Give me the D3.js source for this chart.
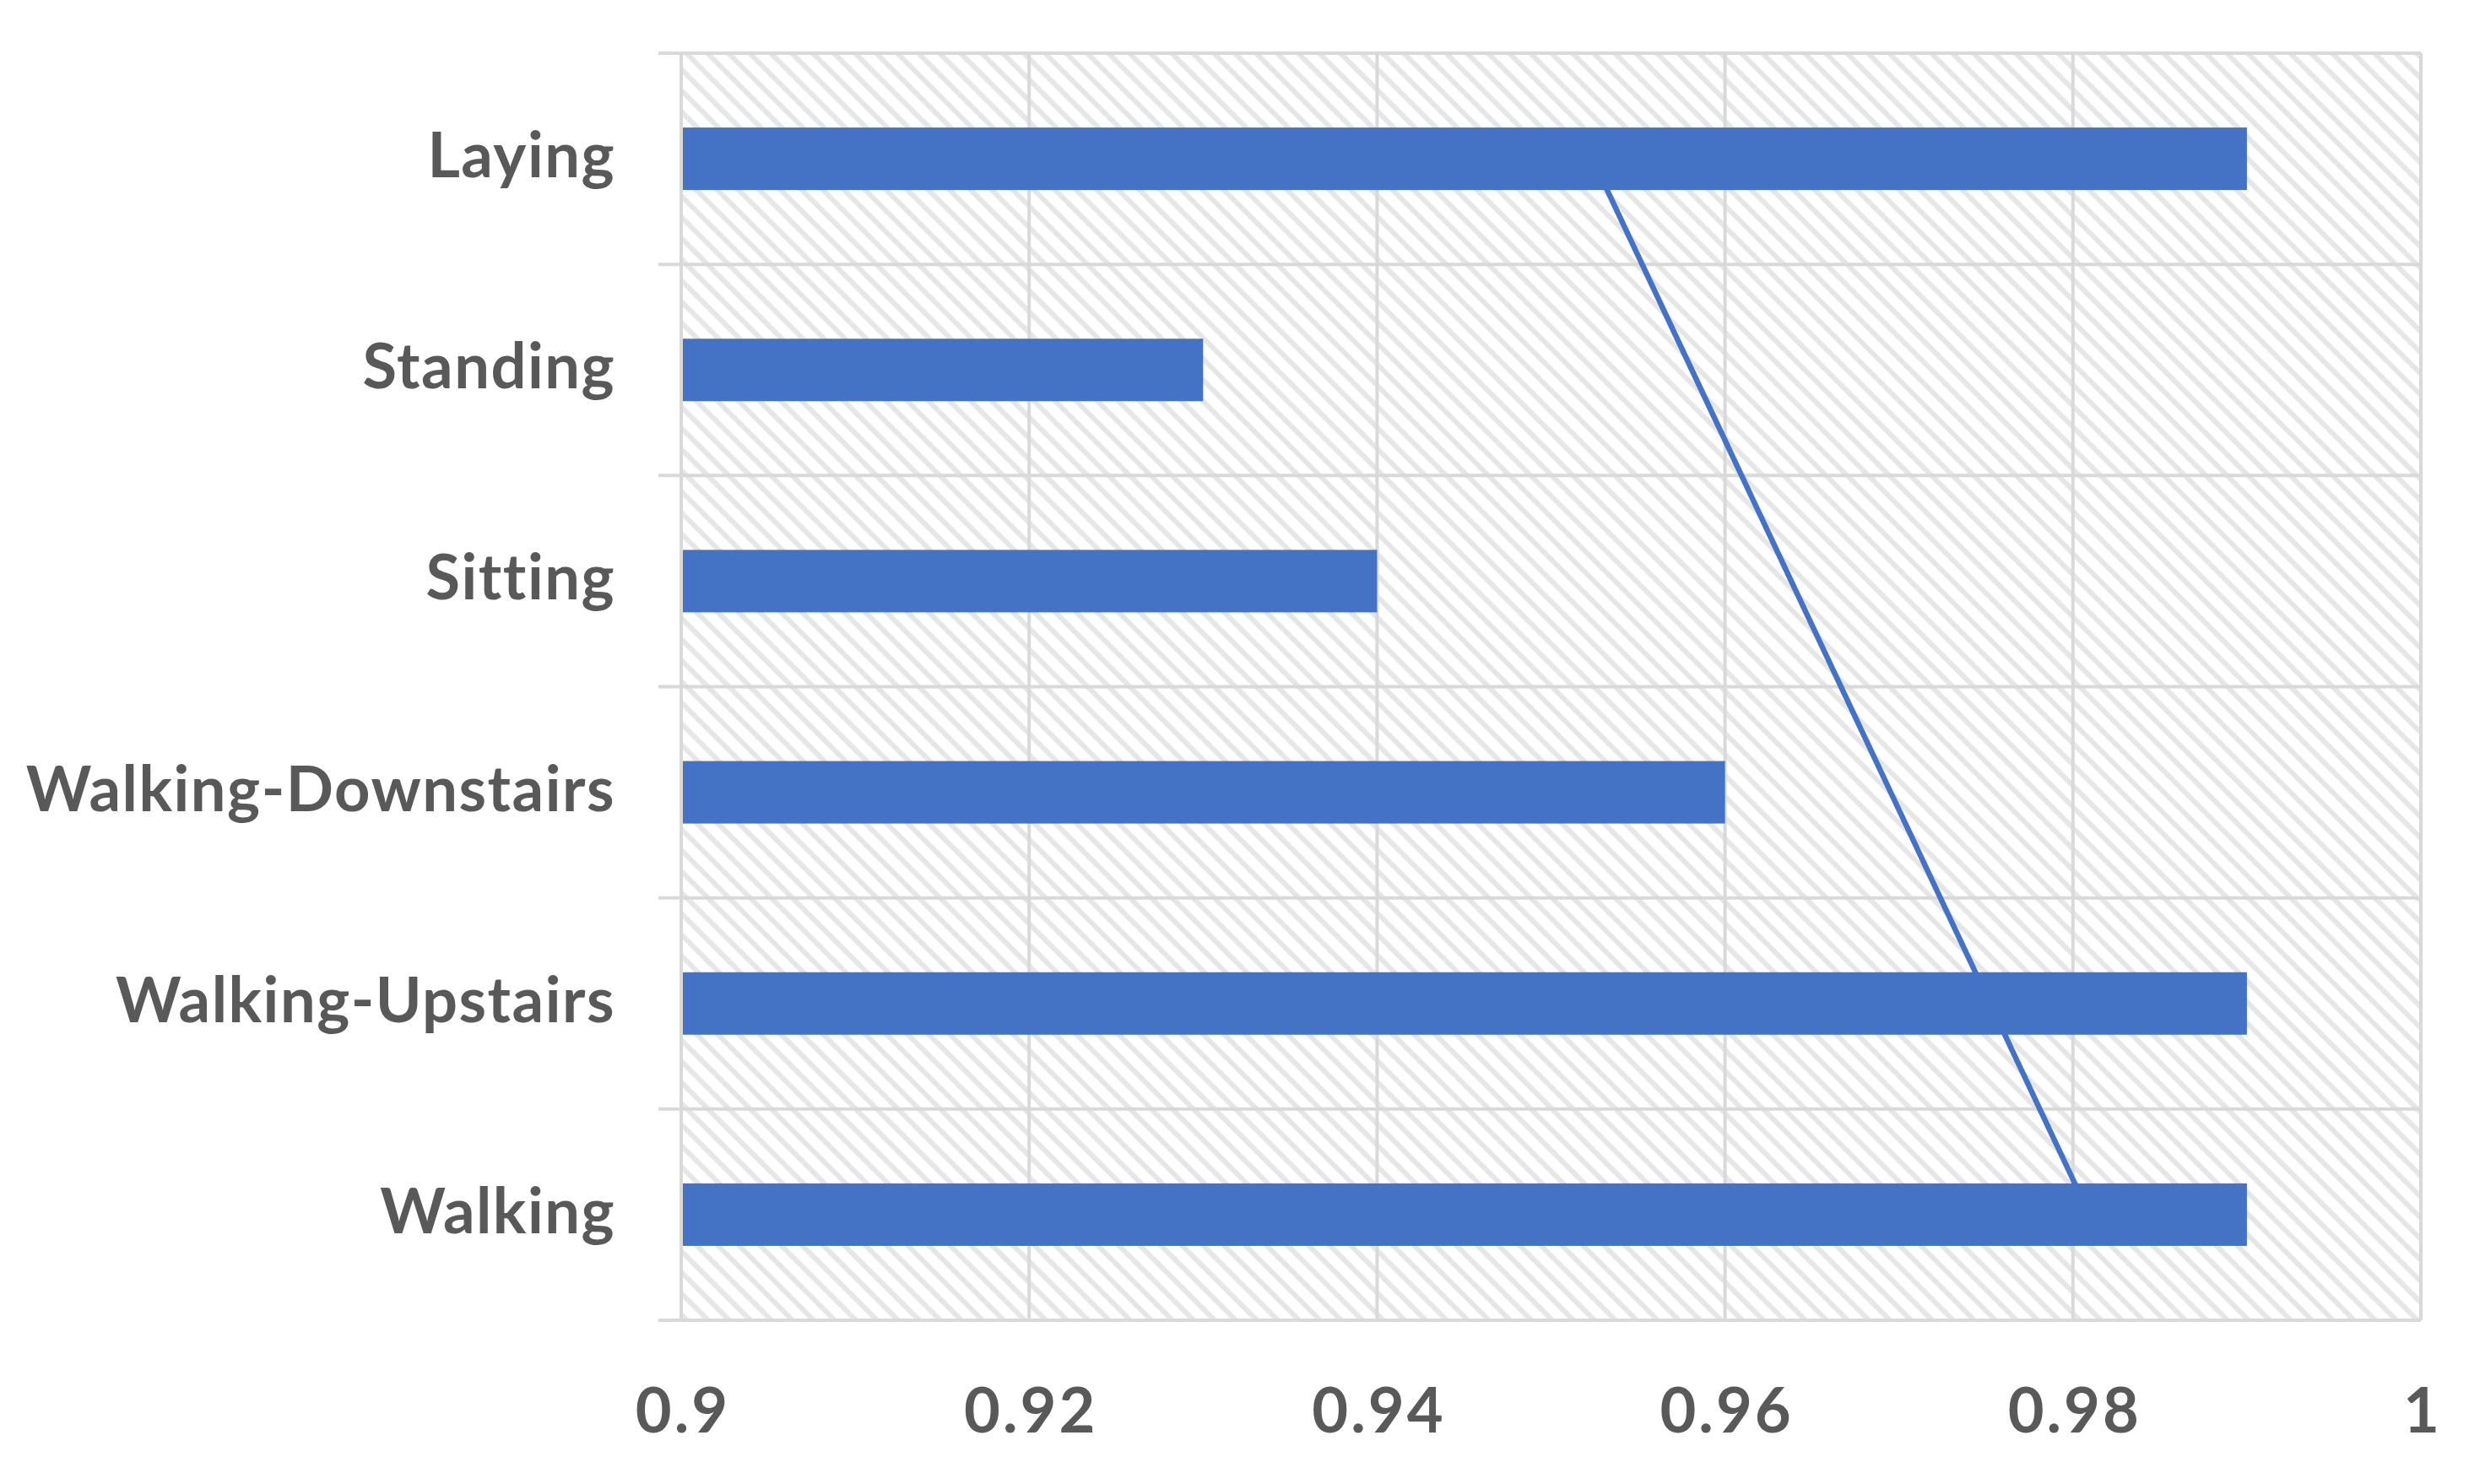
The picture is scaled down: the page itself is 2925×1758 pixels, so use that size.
<!DOCTYPE html>
<html>
<head>
<meta charset="utf-8">
<script src="https://cdn.jsdelivr.net/npm/d3@7"></script>
<style>
  html, body { margin: 0; padding: 0; background: #ffffff; }
  svg { display: block; }
</style>
</head>
<body>
<script>
// ---- data (Excel order: first category at the bottom) ----
const categories = ["Walking", "Walking-Upstairs", "Walking-Downstairs", "Sitting", "Standing", "Laying"];
const values = [0.99, 0.99, 0.96, 0.94, 0.93, 0.99];
const xTicks = [0.9, 0.92, 0.94, 0.96, 0.98, 1];
const xTickLabels = ["0.9", "0.92", "0.94", "0.96", "0.98", "1"];

const W = 2925, H = 1758;
const plot = { left: 807, right: 2868, top: 63, bottom: 1564 };

const svg = d3.select("body").append("svg").attr("width", W).attr("height", H);

const x = d3.scaleLinear().domain([0.9, 1]).range([plot.left, plot.right]);
const pi = 1 - 74 / ((plot.bottom - plot.top) / categories.length);
const y = d3.scaleBand()
  .domain(categories.slice().reverse())
  .range([plot.top, plot.bottom])
  .paddingInner(pi)
  .paddingOuter(pi / 2);
const step = y.step();

// hatch pattern
const defs = svg.append("defs");
const pat = defs.append("pattern")
  .attr("id", "hatch").attr("patternUnits", "userSpaceOnUse")
  .attr("width", 25).attr("height", 25);
pat.append("rect").attr("width", 25).attr("height", 25).attr("fill", "#ffffff");
pat.append("path")
  .attr("d", "M0,0 L25,25 M-6,19 L6,31 M19,-6 L31,6")
  .attr("stroke", "#e6e6e6").attr("stroke-width", 6).attr("fill", "none");

svg.append("rect")
  .attr("x", plot.left).attr("y", plot.top)
  .attr("width", plot.right - plot.left).attr("height", plot.bottom - plot.top)
  .attr("fill", "url(#hatch)");

const gridColor = "#d9d9d9";

// vertical gridlines
svg.append("g").selectAll("line").data(xTicks).join("line")
  .attr("x1", d => x(d)).attr("x2", d => x(d))
  .attr("y1", plot.top).attr("y2", plot.bottom)
  .attr("stroke", gridColor).attr("stroke-width", 4);

// horizontal category gridlines + outer ticks
const bounds = d3.range(categories.length + 1).map(i => plot.top + i * step);
svg.append("g").selectAll("line").data(bounds).join("line")
  .attr("x1", plot.left - 27).attr("x2", plot.right)
  .attr("y1", d => d).attr("y2", d => d)
  .attr("stroke", gridColor).attr("stroke-width", 4);

// trendline (linear least squares over category index), drawn behind bars
const n = values.length;
const idx = d3.range(1, n + 1);
const mx = d3.mean(idx), my = d3.mean(values);
const slope = d3.sum(idx, (t, i) => (t - mx) * (values[i] - my)) / d3.sum(idx, t => (t - mx) * (t - mx));
const icpt = my - slope * mx;
const trend = categories.map((c, i) => ({ c, v: icpt + slope * (i + 1) }));
svg.append("path")
  .datum([trend[0], trend[n - 1]])
  .attr("d", d3.line().x(d => x(d.v)).y(d => y(d.c) + y.bandwidth() / 2))
  .attr("stroke", "#4472C4").attr("stroke-width", 6.5).attr("fill", "none");

// bars
svg.append("g").selectAll("rect").data(categories).join("rect")
  .attr("x", x(0.9) + 2)
  .attr("y", d => y(d))
  .attr("width", (d, i) => x(values[i]) - x(0.9) - 2)
  .attr("height", y.bandwidth())
  .attr("fill", "#4472C4");

// category labels
const font = "Lato, 'Open Sans', sans-serif";
svg.append("g").selectAll("text").data(categories).join("text")
  .attr("x", 729)
  .attr("y", d => y(d) + y.bandwidth() / 2 + 22)
  .attr("text-anchor", "end")
  .attr("font-family", font).attr("font-weight", "bold")
  .attr("font-size", 74).attr("letter-spacing", 1.5).attr("fill", "#595959")
  .text(d => d);

// x tick labels
svg.append("g").selectAll("text").data(xTicks).join("text")
  .attr("x", d => x(d) + 2)
  .attr("y", 1697)
  .attr("text-anchor", "middle")
  .attr("font-family", font).attr("font-weight", "bold")
  .attr("font-size", 74).attr("letter-spacing", 3).attr("fill", "#595959")
  .text((d, i) => xTickLabels[i]);
</script>
</body>
</html>
